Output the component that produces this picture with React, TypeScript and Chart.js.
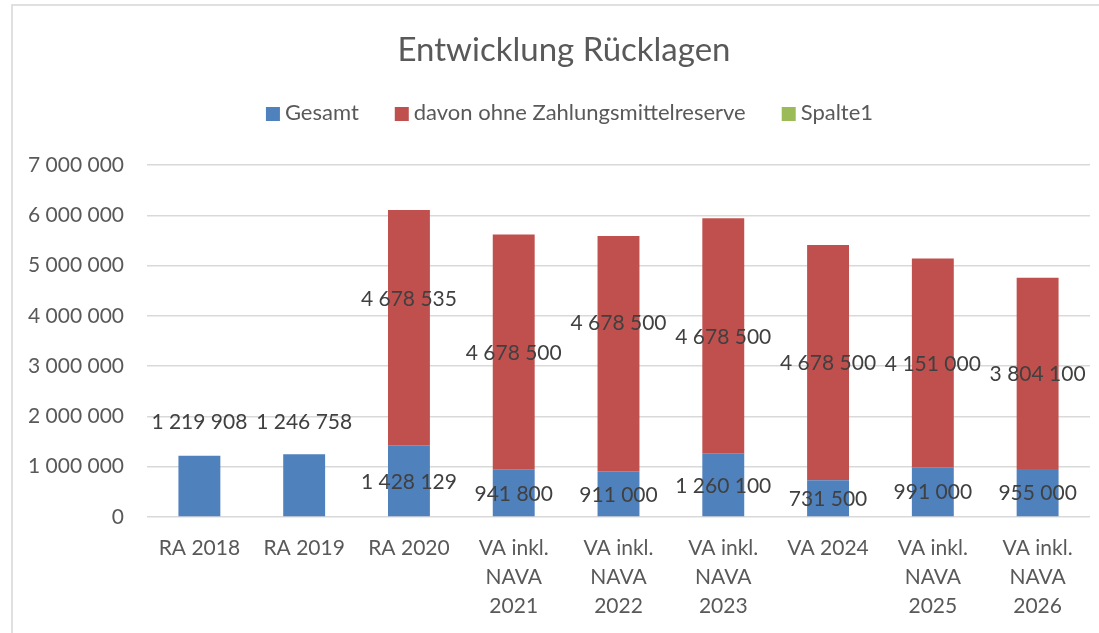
import React, { useEffect, useRef } from "react";
import { Chart, registerables } from "chart.js";

Chart.register(...registerables);

const FONT = "Lato, 'Open Sans', sans-serif";
const TITLE = "Entwicklung Rücklagen";

const categories: (string | string[])[] = [
  "RA 2018",
  "RA 2019",
  "RA 2020",
  ["VA inkl.", "NAVA", "2021"],
  ["VA inkl.", "NAVA", "2022"],
  ["VA inkl.", "NAVA", "2023"],
  "VA 2024",
  ["VA inkl.", "NAVA", "2025"],
  ["VA inkl.", "NAVA", "2026"],
];

const seriesNames = ["Gesamt", "davon ohne Zahlungsmittelreserve", "Spalte1"];
const gesamt = [1219908, 1246758, 1428129, 941800, 911000, 1260100, 731500, 991000, 955000];
const davon = [null, null, 4678535, 4678500, 4678500, 4678500, 4678500, 4151000, 3804100];
const spalte1 = [null, null, null, null, null, null, null, null, null];
const seriesColors = ["#4F81BD", "#C0504D", "#9BBB59"];

const yMin = 0;
const yMax = 7000000;
const yStep = 1000000;

// pixel shifts of data labels that were moved by hand in the original
const labelShiftGesamt = [-65, -64, 0, 0, 0, 0, 0, 0, 0];
const labelShiftDavon = [0, 0, -29, 0, -31, 0, 0, 0, 0];

const fmt = (v: number) =>
  Math.round(v)
    .toString()
    .replace(/\B(?=(\d{3})+(?!\d))/g, " ");

const decor = {
  id: "decor",
  beforeDraw(chart: any) {
    const ctx = chart.ctx as CanvasRenderingContext2D;
    ctx.save();
    ctx.fillStyle = "#ffffff";
    ctx.fillRect(0, 0, chart.width, chart.height);
    ctx.strokeStyle = "#D9D9D9";
    ctx.lineWidth = 1.6;
    ctx.strokeRect(12, 5, chart.width + 40, chart.height + 40);

    // title
    ctx.fillStyle = "#595959";
    ctx.font = `33px ${FONT}`;
    ctx.textAlign = "center";
    ctx.textBaseline = "alphabetic";
    ctx.fillText(TITLE, 564, 61);

    // legend
    ctx.font = `22px ${FONT}`;
    const box = 14;
    const gapBox = 5;
    const gapItem = 36;
    const items = chart.data.datasets.map((d: any) => ({
      label: d.label as string,
      color: d.backgroundColor as string,
      w: ctx.measureText(d.label).width,
    }));
    let total = 0;
    items.forEach((it: any, i: number) => {
      total += box + gapBox + it.w + (i < items.length - 1 ? gapItem : 0);
    });
    let x = 569.5 - total / 2;
    const baseline = 120;
    ctx.textAlign = "left";
    items.forEach((it: any) => {
      ctx.fillStyle = it.color;
      ctx.fillRect(x, 107, box, box);
      x += box + gapBox;
      ctx.fillStyle = "#595959";
      ctx.fillText(it.label, x, baseline);
      x += it.w + gapItem;
    });
    ctx.restore();
  },
  afterDatasetsDraw(chart: any) {
    const ctx = chart.ctx as CanvasRenderingContext2D;
    ctx.save();
    ctx.font = `21px ${FONT}`;
    ctx.fillStyle = "#404040";
    ctx.textAlign = "center";
    ctx.textBaseline = "middle";
    const shifts = [labelShiftGesamt, labelShiftDavon];
    [0, 1].forEach((di) => {
      const meta = chart.getDatasetMeta(di);
      const data = chart.data.datasets[di].data;
      meta.data.forEach((el: any, i: number) => {
        const v = data[i];
        if (v === null || v === undefined) return;
        const cy = (el.y + el.base) / 2 + shifts[di][i];
        ctx.fillText(fmt(v), el.x, cy + 1);
      });
    });
    ctx.restore();
  },
};

export default function App() {
  const ref = useRef<HTMLCanvasElement | null>(null);
  useEffect(() => {
    if (!ref.current) return;
    const chart = new Chart(ref.current, {
      type: "bar",
      data: {
        labels: categories as any,
        datasets: [
          { label: seriesNames[0], data: gesamt as any, backgroundColor: seriesColors[0] },
          { label: seriesNames[1], data: davon as any, backgroundColor: seriesColors[1] },
          { label: seriesNames[2], data: spalte1 as any, backgroundColor: seriesColors[2] },
        ],
      },
      options: {
        responsive: false,
        animation: false,
        devicePixelRatio: 1,
        layout: { padding: { left: 12, right: 9, top: 165, bottom: 0 } },
        datasets: { bar: { barPercentage: 0.4, categoryPercentage: 1.0 } },
        plugins: {
          legend: { display: false },
          title: { display: false },
          tooltip: { enabled: false },
        },
        scales: {
          x: {
            stacked: true,
            grid: { display: false, drawTicks: false },
            border: { display: false },
            ticks: {
              color: "#595959",
              font: { family: FONT, size: 21, lineHeight: 29 / 21 },
              padding: 17,
              maxRotation: 0,
              autoSkip: false,
            },
            afterFit: (s: any) => {
              s.height = 116;
            },
          },
          y: {
            stacked: true,
            min: yMin,
            max: yMax,
            grid: { color: "#D9D9D9", lineWidth: 1.4, drawTicks: false },
            border: { display: false },
            ticks: {
              stepSize: yStep,
              color: "#595959",
              font: { family: FONT, size: 21 },
              padding: 23,
              callback: (v: any) => fmt(Number(v)),
            },
            afterFit: (s: any) => {
              s.width = 135;
            },
          },
        },
      },
      plugins: [decor],
    });
    return () => chart.destroy();
  }, []);
  return (
    <div style={{ position: "absolute", left: 0, top: 0, width: 1099, height: 633 }}>
      <canvas ref={ref} width={1099} height={633} style={{ display: "block" }} />
    </div>
  );
}
